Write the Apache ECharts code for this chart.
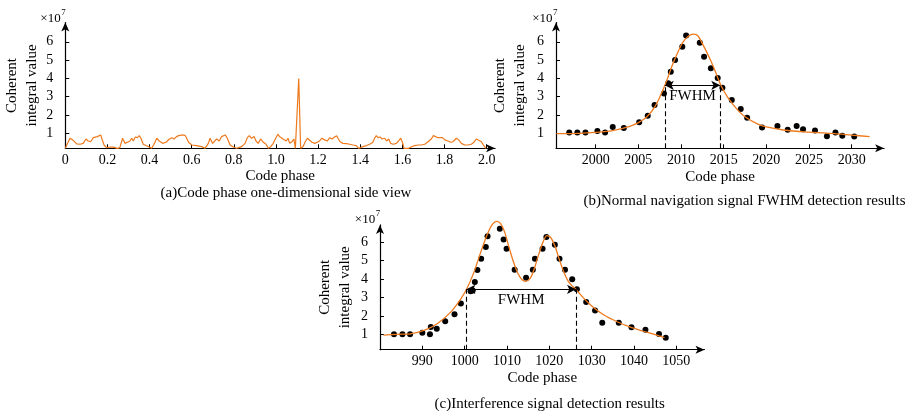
<!DOCTYPE html>
<html>
<head>
<meta charset="UTF-8">
<title>Coherent integral value</title>
<script src="https://cdn.jsdelivr.net/npm/echarts@6/dist/echarts.min.js"></script>
<style>
    html, body { margin: 0; padding: 0; background: #fff; }
    #chart { width: 920px; height: 411px; }
</style>
</head>
<body>
<div id="chart"></div>
<script>
    // (a) code phase side view, noise floor + correlation peak
    var phaseA = [0, 0.022, 0.035, 0.054, 0.07, 0.085, 0.098, 0.109, 0.12, 0.133,
        0.142, 0.152, 0.161, 0.168, 0.174, 0.184, 0.196, 0.212, 0.228, 0.247,
        0.259, 0.272, 0.283, 0.294, 0.307, 0.315, 0.323, 0.332, 0.342, 0.351,
        0.359, 0.37, 0.383, 0.399, 0.41, 0.421, 0.434, 0.446, 0.462, 0.478,
        0.494, 0.506, 0.516, 0.528, 0.538, 0.547, 0.56, 0.57, 0.576, 0.585,
        0.601, 0.623, 0.647, 0.663, 0.679, 0.687, 0.699, 0.71, 0.718, 0.731,
        0.742, 0.75, 0.759, 0.769, 0.782, 0.797, 0.813, 0.823, 0.837, 0.853,
        0.864, 0.873, 0.884, 0.896, 0.905, 0.916, 0.927, 0.94, 0.953, 0.964,
        0.975, 0.987, 1.0, 1.009, 1.017, 1.025, 1.033, 1.041, 1.049, 1.057,
        1.065, 1.076, 1.085, 1.092, 1.108, 1.117, 1.128,
        1.139, 1.149, 1.158, 1.171, 1.184, 1.196, 1.207, 1.218, 1.231, 1.244,
        1.255, 1.266, 1.278, 1.288, 1.294, 1.304, 1.318, 1.334, 1.35, 1.366,
        1.381, 1.392, 1.402, 1.413, 1.429, 1.445, 1.46, 1.468, 1.476, 1.484,
        1.494, 1.503, 1.516, 1.525, 1.535, 1.544, 1.557, 1.571, 1.582, 1.592,
        1.6, 1.608, 1.63, 1.642, 1.658, 1.674, 1.69, 1.706, 1.722, 1.737,
        1.747, 1.756, 1.769, 1.778, 1.79, 1.801, 1.809, 1.816, 1.829, 1.84,
        1.856, 1.867, 1.88, 1.896, 1.911, 1.927, 1.94, 1.951, 1.959, 1.975,
        1.986, 1.997];
    var valueA = [0.18, 0.73, 0.64, 0.42, 0.40, 0.45, 0.69, 0.58, 0.54, 0.76,
        0.69, 0.82, 0.76, 0.91, 0.69, 0.36, 0.22, 0.25, 0.24, 0.18,
        0.22, 0.73, 0.45, 0.51, 0.58, 0.73, 0.58, 0.80, 0.76, 0.87,
        0.73, 0.40, 0.33, 0.25, 0.18, 0.40, 0.73, 0.58, 0.45, 0.51,
        0.69, 0.76, 0.69, 0.82, 0.87, 0.80, 0.91, 0.87, 0.73, 0.51,
        0.36, 0.33, 0.27, 0.18, 0.45, 0.73, 0.45, 0.58, 0.69, 0.58,
        0.82, 0.73, 0.91, 0.73, 0.36, 0.25, 0.18, 0.22, 0.27, 0.45,
        0.76, 0.87, 0.73, 0.82, 0.58, 0.45, 0.69, 0.51, 0.40, 0.18,
        0.27, 0.45, 0.76, 0.95, 0.82, 0.87, 0.69, 0.76, 0.58, 0.73,
        0.45, 0.54, 0.69, 0.18, 4.0, 0.18, 0.27,
        0.54, 0.73, 0.64, 0.51, 0.45, 0.51, 0.58, 0.73, 0.64, 0.58,
        0.76, 0.69, 0.80, 0.87, 0.73, 0.54, 0.45, 0.44, 0.40, 0.36,
        0.33, 0.18, 0.22, 0.27, 0.33, 0.40, 0.51, 0.73, 0.87, 0.76,
        0.80, 0.69, 0.73, 0.58, 0.69, 0.45, 0.40, 0.45, 0.58, 0.73,
        0.51, 0.18, 0.18, 0.25, 0.33, 0.36, 0.36, 0.40, 0.54, 0.69,
        0.87, 0.82, 0.76, 0.69, 0.76, 0.64, 0.54, 0.58, 0.51, 0.54,
        0.73, 0.64, 0.45, 0.36, 0.36, 0.40, 0.51, 0.69, 0.73, 0.54,
        0.33, 0.18];

    // (b) normal navigation signal
    var dotsBX = [1996.9, 1997.85, 1998.8, 2000.2, 2001.1, 2002.0, 2003.3, 2005.1, 2006.1, 2006.9,
        2008.0, 2008.5, 2008.8, 2009.3, 2010.15, 2010.6, 2012.2, 2012.7, 2013.5, 2014.3,
        2014.85, 2015.95, 2017.0, 2017.75, 2019.5, 2021.3, 2022.5, 2023.55, 2024.3, 2025.7,
        2027.1, 2028.1, 2028.9, 2030.3];
    var dotsBY = [1.04, 1.04, 1.04, 1.13, 1.04, 1.35, 1.29, 1.6, 1.96, 2.55,
        3.18, 3.73, 4.36, 5.0, 5.73, 6.35, 5.95, 5.18, 4.55, 4.02,
        3.49, 2.82, 2.33, 1.85, 1.31, 1.4, 1.2, 1.4, 1.22, 1.15,
        0.84, 1.04, 0.87, 0.82];
    var fitBX = [1995.4, 1998, 2000, 2002, 2004, 2005, 2006, 2007, 2008, 2008.5,
        2009, 2010, 2010.5, 2011, 2011.5, 2012, 2012.5, 2013, 2013.5, 2014,
        2014.7, 2015.5, 2016.5, 2017.5, 2019, 2020, 2022, 2025, 2028, 2030, 2032.1];
    var fitBY = [0.98, 1.0, 1.05, 1.15, 1.38, 1.58, 1.9, 2.5, 3.5, 4.1,
        4.75, 5.8, 6.15, 6.35, 6.42, 6.32, 5.9, 5.45, 4.95, 4.4,
        3.6, 2.95, 2.35, 1.9, 1.5, 1.35, 1.18, 1.06, 0.98, 0.9, 0.82];
    var fwhmB = [2008.1, 2014.6];
    var halfB = 3.62;

    // (c) interference signal
    var dotsCX = [983.3, 985.3, 987.1, 990.0, 991.8, 992.0, 993.4, 995.4, 997.6, 999.1,
        1001.4, 1001.9, 1002.4, 1003.0, 1003.9, 1005.0, 1005.4, 1008.3, 1009.2, 1009.9,
        1011.8, 1014.5, 1016.1, 1016.6, 1018.4, 1019.3, 1021.3, 1022.4, 1023.7, 1025.4,
        1026.5, 1028.7, 1030.8, 1032.5, 1036.4, 1039.4, 1042.7, 1045.9, 1047.5];
    var dotsCY = [1.02, 1.02, 1.02, 1.11, 1.02, 1.41, 1.32, 1.72, 2.1, 2.69,
        3.34, 3.39, 3.84, 4.49, 5.1, 5.73, 6.32, 6.72, 6.14, 5.64,
        4.51, 4.08, 4.51, 5.1, 5.64, 6.27, 5.86, 5.1, 4.51, 3.99,
        3.45, 2.76, 2.31, 1.65, 1.65, 1.40, 1.27, 1.04, 0.84];
    var fitCX = [980.8, 984, 987.2, 990.4, 993.5, 996.7, 999.1, 1000.5, 1002.2, 1003.8,
        1005.4, 1006.5, 1007.6, 1008.5, 1009.5, 1010.5, 1011.5, 1012.5, 1013.5, 1014.4,
        1015.5, 1016.5, 1017.5, 1018.5, 1019.4, 1020.3, 1021.3, 1022.3, 1023.3, 1024.3,
        1025.3, 1026.3, 1028, 1030, 1033, 1036, 1039, 1042, 1045, 1047.2];
    var fitCY = [0.98, 1.02, 1.05, 1.23, 1.59, 2.22, 2.94, 3.48, 4.38, 5.46,
        6.45, 6.95, 7.12, 7.0, 6.5, 5.7, 4.95, 4.35, 3.98, 3.88,
        4.05, 4.6, 5.35, 6.0, 6.35, 6.25, 5.8, 5.1, 4.45, 3.95,
        3.65, 3.45, 3.0, 2.55, 2.05, 1.7, 1.42, 1.2, 1.0, 0.84];
    var fwhmC = [1000.4, 1026.3];
    var halfC = 3.45;

    // tick labels
    var ticksA = [0, 0.2, 0.4, 0.6, 0.8, 1.0, 1.2, 1.4, 1.6, 1.8, 2.0];
    var ticksB = [2000, 2005, 2010, 2015, 2020, 2025, 2030];
    var ticksC = [990, 1000, 1010, 1020, 1030, 1040, 1050];
    var ticksY = [1, 2, 3, 4, 5, 6];

    var FONT = '"Liberation Serif", "Times New Roman", serif';
    var ORANGE = '#EE7A1E';

    function zip(xs, ys) {
        return xs.map(function (x, i) { return [x, ys[i]]; });
    }

    function plain(v) { return String(v); }

    function xAxisOf(grid, min, max, ticks, gap, fmt) {
        return {
            type: 'value', gridIndex: grid, min: min, max: max,
            name: 'Code phase', nameLocation: 'middle', nameGap: gap,
            nameTextStyle: { fontFamily: FONT, fontSize: 15, color: '#000' },
            axisLine: { show: true, onZero: false, symbol: ['none', 'arrow'], symbolSize: [6, 9],
                lineStyle: { color: '#000', width: 1.2 } },
            axisTick: { show: true, inside: true, length: 4, customValues: ticks,
                lineStyle: { color: '#000', width: 1 } },
            axisLabel: { customValues: ticks, margin: 5, fontFamily: FONT, fontSize: 14,
                color: '#000', formatter: fmt || plain },
            splitLine: { show: false }
        };
    }

    function yAxisOf(grid, min, max, gap) {
        return {
            type: 'value', gridIndex: grid, min: min, max: max,
            name: 'Coherent\nintegral value', nameLocation: 'middle', nameGap: gap, nameRotate: 90,
            nameTextStyle: { fontFamily: FONT, fontSize: 15, lineHeight: 20, color: '#000' },
            axisLine: { show: true, onZero: false, symbol: ['none', 'arrow'], symbolSize: [6, 9],
                lineStyle: { color: '#000', width: 1.2 } },
            axisTick: { show: true, inside: true, length: 4, customValues: ticksY,
                lineStyle: { color: '#000', width: 1 } },
            axisLabel: { customValues: ticksY, margin: 12, fontFamily: FONT, fontSize: 14,
                color: '#000', formatter: plain },
            splitLine: { show: false }
        };
    }

    function fwhmMarks(pair, level, ymin) {
        var dash = { type: [5, 3], color: '#000', width: 1.1 };
        return {
            silent: true, animation: false,
            symbol: 'none',
            label: { show: false },
            data: [
                [{ coord: [pair[0], ymin], lineStyle: dash }, { coord: [pair[0], level] }],
                [{ coord: [pair[1], ymin], lineStyle: dash }, { coord: [pair[1], level] }],
                [{ coord: [pair[0], level], symbol: 'arrow', symbolSize: [7, 9],
                    lineStyle: { type: 'solid', color: '#000', width: 1.1 },
                    label: { show: true, formatter: 'FWHM', position: 'insideMiddleBottom', distance: 3,
                        fontFamily: FONT, fontSize: 15, color: '#000' } },
                 { coord: [pair[1], level], symbol: 'arrow', symbolSize: [7, 9] }]
            ]
        };
    }

    function superscript(x, y) {
        return [
            { type: 'text', x: x, y: y, style: { text: '\u00d710', font: '13px ' + FONT, fill: '#000',
                align: 'center', verticalAlign: 'middle' } },
            { type: 'text', x: x + 13, y: y - 6, style: { text: '7', font: '9px ' + FONT, fill: '#000',
                align: 'center', verticalAlign: 'middle' } }
        ];
    }

    function caption(text, x, y) {
        return { type: 'text', x: x, y: y, style: { text: text, font: '15px ' + FONT, fill: '#000',
            align: 'center', verticalAlign: 'middle' } };
    }

    var chart = echarts.init(document.getElementById('chart'), null, { renderer: 'canvas' });

    chart.setOption({
        animation: false,
        backgroundColor: '#fff',
        grid: [
            { left: 65.3, top: 22.6, width: 429.8, height: 125.7 },
            { left: 556, top: 22.6, width: 328.1, height: 125.7 },
            { left: 380, top: 224.9, width: 324.5, height: 124.8 }
        ],
        xAxis: [
            xAxisOf(0, 0, 2.04, ticksA, 16, function (v) { return v === 0 ? '0' : v.toFixed(1); }),
            xAxisOf(1, 1995.35, 2033.8, ticksB, 21),
            xAxisOf(2, 980, 1056.65, ticksC, 21)
        ],
        yAxis: [
            yAxisOf(0, 0.18, 7.05, 23),
            yAxisOf(1, 0.18, 7.05, 26),
            yAxisOf(2, 0.19, 6.93, 25)
        ],
        graphic: [].concat(
            superscript(50.5, 18.3),
            superscript(542.3, 18.3),
            superscript(365, 220),
            [
                caption('(a)Code phase one-dimensional side view', 286, 192.7),
                caption('(b)Normal navigation signal FWHM detection results', 744.5, 201),
                caption('(c)Interference signal detection results', 549.7, 404)
            ]
        ),
        series: [
            { type: 'line', xAxisIndex: 0, yAxisIndex: 0, data: zip(phaseA, valueA),
                showSymbol: false, clip: false, lineStyle: { color: ORANGE, width: 1.2 } },

            { type: 'line', xAxisIndex: 1, yAxisIndex: 1, data: zip(fitBX, fitBY),
                showSymbol: false, smooth: 0.3, clip: false, lineStyle: { color: ORANGE, width: 1.3 },
                markLine: fwhmMarks(fwhmB, halfB, 0.18) },
            { type: 'scatter', xAxisIndex: 1, yAxisIndex: 1, data: zip(dotsBX, dotsBY),
                symbolSize: 6, itemStyle: { color: '#000', opacity: 1 } },

            { type: 'line', xAxisIndex: 2, yAxisIndex: 2, data: zip(fitCX, fitCY),
                showSymbol: false, smooth: 0.3, clip: false, lineStyle: { color: ORANGE, width: 1.3 },
                markLine: fwhmMarks(fwhmC, halfC, 0.19) },
            { type: 'scatter', xAxisIndex: 2, yAxisIndex: 2, data: zip(dotsCX, dotsCY),
                symbolSize: 6, itemStyle: { color: '#000', opacity: 1 } }
        ]
    });
</script>
</body>
</html>
